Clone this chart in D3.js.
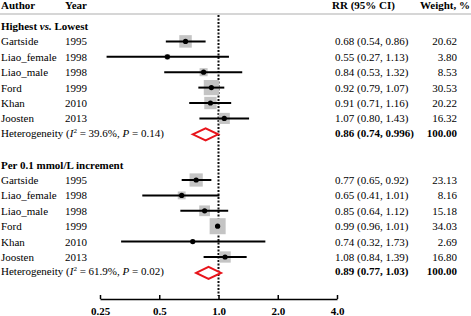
<!DOCTYPE html>
<html>
<head>
<meta charset="utf-8">
<script src="https://cdn.jsdelivr.net/npm/d3@7"></script>
<style>
  body { margin: 0; background: #fff; }
  svg { display: block; font-family: 'Liberation Serif', 'Times New Roman', serif; }
</style>
</head>
<body>
<div id="chart"></div>
<script>
const groupTitles = ['Highest vs. Lowest', 'Per 0.1 mmol/L increment'];
const authors = ['Gartside', 'Liao_female', 'Liao_male', 'Ford', 'Khan', 'Joosten'];
const years = ['1995', '1998', '1998', '1999', '2010', '2013'];

const rr1 = [0.68, 0.55, 0.84, 0.92, 0.91, 1.07];
const lo1 = [0.54, 0.27, 0.53, 0.79, 0.71, 0.80];
const hi1 = [0.86, 1.13, 1.32, 1.07, 1.16, 1.43];
const w1 = [20.62, 3.80, 8.53, 30.53, 20.22, 16.32];
const rrText1 = ['0.68 (0.54, 0.86)', '0.55 (0.27, 1.13)', '0.84 (0.53, 1.32)', '0.92 (0.79, 1.07)', '0.91 (0.71, 1.16)', '1.07 (0.80, 1.43)'];
const pooled1 = { rr: 0.86, lo: 0.74, hi: 0.996, text: '0.86 (0.74, 0.996)', i2: '39.6%', p: '0.14' };

const rr2 = [0.77, 0.65, 0.85, 0.99, 0.74, 1.08];
const lo2 = [0.65, 0.41, 0.64, 0.96, 0.32, 0.84];
const hi2 = [0.92, 1.01, 1.12, 1.01, 1.73, 1.39];
const w2 = [23.13, 8.16, 15.18, 34.03, 2.69, 16.80];
const rrText2 = ['0.77 (0.65, 0.92)', '0.65 (0.41, 1.01)', '0.85 (0.64, 1.12)', '0.99 (0.96, 1.01)', '0.74 (0.32, 1.73)', '1.08 (0.84, 1.39)'];
const pooled2 = { rr: 0.89, lo: 0.77, hi: 1.03, text: '0.89 (0.77, 1.03)', i2: '61.9%', p: '0.02' };

const tickValues = [0.25, 0.5, 1.0, 2.0, 4.0];
const tickLabels = ['0.25', '0.5', '1.0', '2.0', '4.0'];

const W = 471, H = 316;
const svg = d3.select('#chart').append('svg').attr('width', W).attr('height', H);

const x = d3.scaleLog().base(2).domain([0.25, 4]).range([100, 337]);
const y = d3.scaleLinear().domain([0, 16]).range([26, 272.4]);
const side = (w) => 2.75 * Math.sqrt(w);
const fs = 11;

// header
const header = svg.append('g').attr('font-weight', 'bold').attr('font-size', fs);
header.append('text').attr('x', 1).attr('y', 9).text('Author');
header.append('text').attr('x', 65).attr('y', 9).text('Year');
header.append('text').attr('x', 332).attr('y', 9).text('RR (95% CI)');
header.append('text').attr('x', 470).attr('y', 9).attr('text-anchor', 'end').text('Weight, %');
svg.append('line').attr('x1', 0).attr('x2', W).attr('y1', 14).attr('y2', 14)
  .attr('stroke', '#c8c8c8').attr('stroke-width', 1.5);

// null line
svg.append('line').attr('x1', x(1)).attr('x2', x(1)).attr('y1', 15).attr('y2', 296)
  .attr('stroke', '#111').attr('stroke-width', 2).attr('stroke-dasharray', '2,1.5');

const groups = [
  { title: groupTitles[0], rr: rr1, lo: lo1, hi: hi1, w: w1, txt: rrText1, pooled: pooled1, start: 0 },
  { title: groupTitles[1], rr: rr2, lo: lo2, hi: hi2, w: w2, txt: rrText2, pooled: pooled2, start: 9 }
];

groups.forEach((g) => {
  const ty = y(g.start) + 4;
  const t = svg.append('text').attr('x', 1).attr('y', ty).attr('font-size', fs).attr('font-weight', 'bold');
  if (g.title.includes('vs.')) {
    t.append('tspan').text('Highest ');
    t.append('tspan').attr('font-style', 'italic').text('vs.');
    t.append('tspan').text(' Lowest');
  } else {
    t.text(g.title);
  }

  const rows = authors.map((a, i) => ({
    author: a, year: years[i], rr: g.rr[i], lo: g.lo[i], hi: g.hi[i], w: g.w[i], txt: g.txt[i], row: g.start + 1 + i
  }));

  const row = svg.append('g').selectAll('g').data(rows).enter().append('g')
    .attr('transform', (d) => `translate(0,${y(d.row)})`);

  row.append('text').attr('x', 1).attr('y', 4).attr('font-size', fs).text((d) => d.author);
  row.append('text').attr('x', 65).attr('y', 4).attr('font-size', fs).text((d) => d.year);
  row.append('text').attr('x', 335).attr('y', 4).attr('font-size', fs).text((d) => d.txt);
  row.append('text').attr('x', 457).attr('y', 4).attr('font-size', fs).attr('text-anchor', 'end')
    .text((d) => d.w.toFixed(2));

  row.append('rect')
    .attr('x', (d) => x(d.rr) - side(d.w) / 2)
    .attr('y', (d) => -side(d.w) / 2)
    .attr('width', (d) => side(d.w))
    .attr('height', (d) => side(d.w))
    .attr('fill', '#c4c4c4');
  row.append('line')
    .attr('x1', (d) => x(d.lo)).attr('x2', (d) => x(d.hi))
    .attr('stroke', '#000').attr('stroke-width', 2);
  row.append('circle').attr('cx', (d) => x(d.rr)).attr('r', 2.6).attr('fill', '#000');

  // pooled row
  const py = y(g.start + 7);
  const het = svg.append('text').attr('x', 1).attr('y', py + 3).attr('font-size', fs);
  het.append('tspan').text('Heterogeneity (');
  het.append('tspan').attr('font-style', 'italic').text('I');
  het.append('tspan').attr('font-size', 7).attr('dy', -4).text('2');
  het.append('tspan').attr('dy', 4).text(` = ${g.pooled.i2}, `);
  het.append('tspan').attr('font-style', 'italic').text('P');
  het.append('tspan').text(` = ${g.pooled.p})`);

  const p = g.pooled;
  const dy = py + 0.5;
  svg.append('path')
    .attr('d', `M${x(p.lo)},${dy} L${x(p.rr)},${dy - 6} L${x(p.hi)},${dy} L${x(p.rr)},${dy + 6} Z`)
    .attr('fill', '#fff').attr('stroke', '#e8141b').attr('stroke-width', 2);

  svg.append('text').attr('x', 335).attr('y', py + 3).attr('font-size', fs).attr('font-weight', 'bold').text(p.text);
  svg.append('text').attr('x', 457).attr('y', py + 3).attr('font-size', fs).attr('font-weight', 'bold')
    .attr('text-anchor', 'end').text('100.00');
});

// axis
const axis = d3.axisTop(x).tickValues(tickValues).tickFormat((d, i) => tickLabels[i]).tickSize(4).tickSizeOuter(0);
const ax = svg.append('g').attr('transform', 'translate(0,299)').call(axis);
ax.select('.domain').attr('stroke', '#000').attr('stroke-width', 1.5);
ax.selectAll('.tick line').attr('stroke', '#000').attr('stroke-width', 1.5);
ax.selectAll('.tick text')
  .attr('y', 16).attr('dy', 0)
  .attr('font-family', "'Liberation Serif', serif")
  .attr('font-size', fs).attr('font-weight', 'bold').attr('fill', '#000');
</script>
</body>
</html>
